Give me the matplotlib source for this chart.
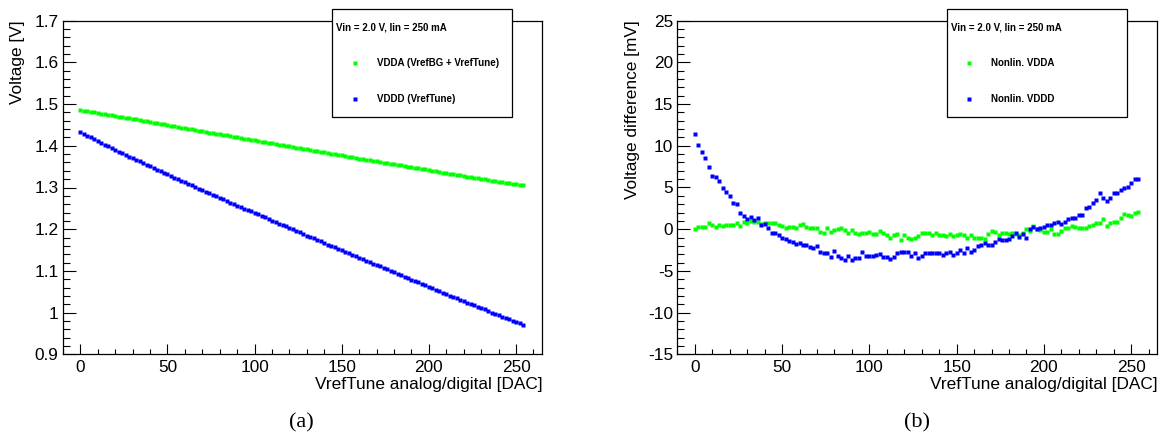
import matplotlib
matplotlib.use("Agg")
import matplotlib.pyplot as plt
from matplotlib.ticker import MultipleLocator, FuncFormatter
from matplotlib.patches import Rectangle
from matplotlib.lines import Line2D

# ---------------------------------------------------------------- data
dac_codes = list(range(0, 256, 2))

vdda_volts = [
    1.4851, 1.4840, 1.4825, 1.4811, 1.4801, 1.4784, 1.4768, 1.4756,
    1.4740, 1.4727, 1.4713, 1.4698, 1.4686, 1.4669, 1.4660, 1.4643,
    1.4632, 1.4617, 1.4602, 1.4585, 1.4572, 1.4557, 1.4543, 1.4529,
    1.4512, 1.4497, 1.4480, 1.4467, 1.4453, 1.4437, 1.4426, 1.4413,
    1.4396, 1.4379, 1.4366, 1.4352, 1.4332, 1.4316, 1.4308, 1.4290,
    1.4277, 1.4264, 1.4251, 1.4234, 1.4217, 1.4206, 1.4188, 1.4172,
    1.4159, 1.4145, 1.4132, 1.4115, 1.4100, 1.4090, 1.4073, 1.4056,
    1.4039, 1.4028, 1.4014, 1.3993, 1.3985, 1.3967, 1.3951, 1.3939,
    1.3927, 1.3915, 1.3902, 1.3887, 1.3870, 1.3858, 1.3842, 1.3827,
    1.3812, 1.3800, 1.3783, 1.3770, 1.3757, 1.3741, 1.3723, 1.3713,
    1.3695, 1.3681, 1.3667, 1.3650, 1.3642, 1.3632, 1.3616, 1.3598,
    1.3586, 1.3573, 1.3556, 1.3543, 1.3528, 1.3512, 1.3500, 1.3491,
    1.3474, 1.3466, 1.3448, 1.3432, 1.3416, 1.3402, 1.3390, 1.3370,
    1.3356, 1.3345, 1.3334, 1.3320, 1.3308, 1.3293, 1.3278, 1.3262,
    1.3249, 1.3237, 1.3224, 1.3211, 1.3197, 1.3188, 1.3165, 1.3154,
    1.3142, 1.3127, 1.3117, 1.3108, 1.3092, 1.3077, 1.3066, 1.3053,
]

vddd_volts = [
    1.4340, 1.4291, 1.4247, 1.4203, 1.4157, 1.4110, 1.4071, 1.4031,
    1.3986, 1.3946, 1.3905, 1.3860, 1.3823, 1.3777, 1.3737, 1.3697,
    1.3664, 1.3624, 1.3589, 1.3545, 1.3510, 1.3469, 1.3427, 1.3391,
    1.3353, 1.3314, 1.3276, 1.3238, 1.3201, 1.3162, 1.3127, 1.3088,
    1.3052, 1.3014, 1.2976, 1.2943, 1.2900, 1.2863, 1.2826, 1.2786,
    1.2757, 1.2714, 1.2675, 1.2637, 1.2606, 1.2565, 1.2531, 1.2495,
    1.2467, 1.2426, 1.2390, 1.2354, 1.2319, 1.2283, 1.2244, 1.2208,
    1.2169, 1.2136, 1.2104, 1.2070, 1.2034, 1.1998, 1.1957, 1.1925,
    1.1881, 1.1848, 1.1816, 1.1779, 1.1743, 1.1707, 1.1671, 1.1633,
    1.1599, 1.1565, 1.1525, 1.1491, 1.1458, 1.1419, 1.1388, 1.1348,
    1.1314, 1.1283, 1.1248, 1.1214, 1.1176, 1.1140, 1.1108, 1.1075,
    1.1037, 1.1001, 1.0966, 1.0934, 1.0901, 1.0861, 1.0828, 1.0788,
    1.0762, 1.0729, 1.0690, 1.0655, 1.0620, 1.0586, 1.0550, 1.0517,
    1.0482, 1.0443, 1.0410, 1.0377, 1.0343, 1.0307, 1.0274, 1.0237,
    1.0210, 1.0175, 1.0143, 1.0111, 1.0083, 1.0042, 1.0002, 0.9969,
    0.9939, 0.9904, 0.9871, 0.9836, 0.9802, 0.9770, 0.9739, 0.9703,
]

nonlin_vdda_mv = [
    0.0, 0.3, 0.3, 0.3, 0.7, 0.5, 0.3, 0.5, 0.4, 0.5, 0.5, 0.5, 0.7, 0.4, 0.9, 0.7,
    1.0, 0.9, 0.9, 0.6, 0.7, 0.7, 0.7, 0.7, 0.5, 0.4, 0.1, 0.3, 0.3, 0.1, 0.5, 0.6,
    0.3, 0.1, 0.2, 0.2, -0.3, -0.5, 0.1, -0.3, -0.1, 0.0, 0.1, -0.1, -0.4, -0.1, -0.4, -0.6,
    -0.5, -0.4, -0.3, -0.6, -0.6, -0.2, -0.5, -0.7, -1.0, -0.7, -0.6, -1.3, -0.7, -1.0, -1.2, -1.0,
    -0.8, -0.5, -0.4, -0.5, -0.7, -0.5, -0.7, -0.7, -0.8, -0.6, -0.8, -0.7, -0.6, -0.7, -1.1, -0.7,
    -1.0, -1.0, -1.0, -1.2, -0.6, -0.2, -0.3, -0.7, -0.5, -0.4, -0.6, -0.5, -0.6, -0.7, -0.5, 0.0,
    -0.2, 0.4, 0.0, -0.1, -0.3, -0.3, 0.0, -0.6, -0.6, -0.2, 0.1, 0.1, 0.4, 0.3, 0.2, 0.1,
    0.2, 0.4, 0.5, 0.7, 0.7, 1.2, 0.4, 0.7, 0.9, 0.9, 1.3, 1.8, 1.7, 1.6, 1.9, 2.1,
]

nonlin_vddd_mv = [
    11.4, 10.1, 9.3, 8.5, 7.5, 6.4, 6.2, 5.8, 4.9, 4.5, 4.0, 3.1, 3.0, 2.0, 1.6, 1.2,
    1.5, 1.1, 1.3, 0.5, 0.6, 0.1, -0.5, -0.5, -0.7, -1.0, -1.2, -1.4, -1.5, -1.8, -1.6, -1.9,
    -1.9, -2.1, -2.3, -2.0, -2.7, -2.8, -2.9, -3.3, -2.6, -3.2, -3.5, -3.7, -3.2, -3.7, -3.5, -3.5,
    -2.7, -3.2, -3.2, -3.2, -3.1, -3.0, -3.3, -3.3, -3.6, -3.3, -2.9, -2.7, -2.7, -2.7, -3.2, -2.8,
    -3.5, -3.2, -2.8, -2.9, -2.9, -2.9, -2.9, -3.1, -2.9, -2.7, -3.1, -2.9, -2.5, -2.8, -2.3, -2.7,
    -2.5, -2.0, -1.9, -1.7, -1.9, -1.9, -1.5, -1.2, -1.3, -1.3, -1.2, -0.8, -0.5, -0.9, -0.6, -1.0,
    0.0, 0.3, 0.0, 0.2, 0.3, 0.5, 0.5, 0.8, 0.9, 0.6, 0.9, 1.2, 1.4, 1.4, 1.7, 1.7,
    2.6, 2.7, 3.1, 3.5, 4.3, 3.8, 3.4, 3.7, 4.3, 4.4, 4.7, 4.9, 5.1, 5.5, 6.0, 6.0,
]

condition_label = "Vin = 2.0 V, Iin = 250 mA"
voltage_entries = ["VDDA (VrefBG + VrefTune)", "VDDD (VrefTune)"]
nonlin_entries = ["Nonlin. VDDA", "Nonlin. VDDD"]
x_title = "VrefTune analog/digital [DAC]"
voltage_title = "Voltage [V]"
nonlin_title = "Voltage difference [mV]"
captions = ["(a)", "(b)"]

# ---------------------------------------------------------------- style
plt.rcParams["font.family"] = ["Liberation Sans", "DejaVu Sans"]
plt.rcParams["axes.unicode_minus"] = False

W, H = 1165, 434
GREEN = "#00ff00"
BLUE = "#0000ff"
green_style = dict(ls="none", marker="s", ms=2.3, mfc=GREEN, mec="none")
blue_style = dict(ls="none", marker="s", ms=2.5, mfc=BLUE, mec="none")
TICK_FS = 12.4


def fx(px):
    return px / W


def fy(py):
    return 1 - py / H


fig = plt.figure(figsize=(W / 100, H / 100), dpi=100)


def frame(left, right, top=20.7, bottom=354.3):
    ax = fig.add_axes([fx(left), fy(bottom), (right - left) / W, (bottom - top) / H])
    for sp in ax.spines.values():
        sp.set_linewidth(0.9)
    ax.tick_params(which="both", direction="in", top=False, right=False,
                   labelsize=TICK_FS, width=0.8, color="black")
    ax.tick_params(axis="y", which="major", length=9.6, pad=3)
    ax.tick_params(axis="y", which="minor", length=4.8)
    ax.tick_params(axis="x", which="major", length=7.2, pad=4)
    ax.tick_params(axis="x", which="minor", length=3.6)
    ax.set_xlim(-10, 265)
    ax.xaxis.set_major_locator(MultipleLocator(50))
    ax.xaxis.set_minor_locator(MultipleLocator(10))
    ax.yaxis.set_major_formatter(FuncFormatter(lambda v, p: f"{v:g}"))
    return ax


def legend_box(x0, x1, marker_x, text_x, labels):
    fig.add_artist(Rectangle((fx(x0), fy(117.3)), (x1 - x0) / W, (117.3 - 9.5) / H,
                             transform=fig.transFigure, fc="white", ec="black",
                             lw=0.9, zorder=10))
    fig.text(fx(x0 + 4), fy(27.3), condition_label, fontsize=7, fontweight="bold",
             ha="left", va="center", zorder=11)
    for y, lab, st in zip((62.7, 99.0), labels, (green_style, blue_style)):
        fig.add_artist(Line2D([fx(marker_x)], [fy(y)], transform=fig.transFigure,
                              zorder=11, **st))
        fig.text(fx(text_x), fy(y), lab, fontsize=7, fontweight="bold",
                 ha="left", va="center", zorder=11)


# ---------------------------------------------------------------- (a) voltages
ax1 = frame(62.9, 542.2)
ax1.plot(dac_codes, vdda_volts, **green_style)
ax1.plot(dac_codes, vddd_volts, **blue_style)
ax1.set_ylim(0.9, 1.7)
ax1.yaxis.set_major_locator(MultipleLocator(0.1))
ax1.yaxis.set_minor_locator(MultipleLocator(0.02))
fig.text(fx(17.4), fy(20.7), voltage_title, rotation=90, fontsize=TICK_FS,
         ha="center", va="top")
fig.text(fx(542.2), fy(389.5), x_title, fontsize=TICK_FS, ha="right", va="baseline")
legend_box(332.3, 512.3, 355.0, 377.3, voltage_entries)

# ---------------------------------------------------------------- (b) nonlinearity
ax2 = frame(677.3, 1157.4)
ax2.plot(dac_codes, nonlin_vdda_mv, **green_style)
ax2.plot(dac_codes, nonlin_vddd_mv, **blue_style)
ax2.set_ylim(-15, 25)
ax2.yaxis.set_major_locator(MultipleLocator(5))
ax2.yaxis.set_minor_locator(MultipleLocator(1))
fig.text(fx(632.2), fy(20.7), nonlin_title, rotation=90, fontsize=TICK_FS,
         ha="center", va="top")
fig.text(fx(1157.4), fy(389.5), x_title, fontsize=TICK_FS, ha="right", va="baseline")
legend_box(947.3, 1127.3, 969.3, 990.7, nonlin_entries)

# ---------------------------------------------------------------- captions
for cx, cap in zip((301.7, 917.0), captions):
    fig.text(fx(cx), fy(422.5), cap, fontsize=16, family="Liberation Serif",
             ha="center", va="center")

fig.savefig("out.png", dpi=100)
